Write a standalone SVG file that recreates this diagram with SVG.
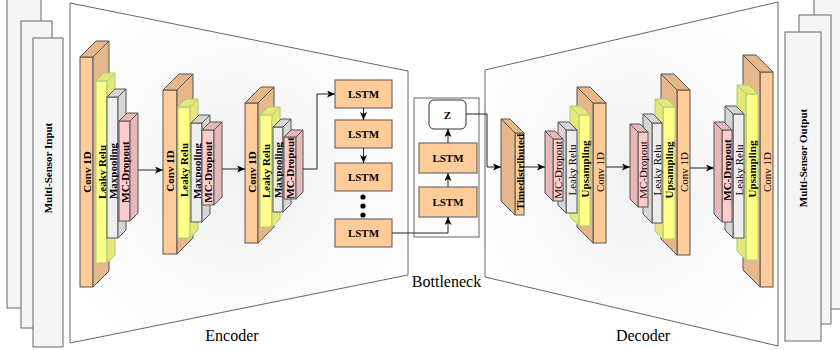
<svg xmlns="http://www.w3.org/2000/svg" width="840" height="350" viewBox="0 0 840 350" font-family="'Liberation Serif', 'DejaVu Serif', serif">
<style>
text{font-family:'Liberation Serif','DejaVu Serif',serif;fill:#000}
.lbl{font-size:11px;font-weight:bold;text-anchor:middle;dominant-baseline:central}
.reg{font-size:11px;font-weight:normal;text-anchor:middle;dominant-baseline:central}
.big{font-size:16px;text-anchor:middle}
.sheet{fill:#F5F5F5;stroke:#666;stroke-width:1}
.frame{stroke:#666;stroke-width:1}
.cf{fill:#FFCC99;stroke:#555;stroke-width:1}
.cs{fill:#E6B889;stroke:#555;stroke-width:1}
.yf{fill:#FFFF88;stroke:#A8CC78;stroke-width:1}
.ys{fill:#E6E67A;stroke:#A8CC78;stroke-width:1}
.gf{fill:#EEEEEE;stroke:#555;stroke-width:1}
.gs{fill:#D6D6D6;stroke:#555;stroke-width:1}
.pf{fill:#FFCCCC;stroke:#555;stroke-width:1}
.ps{fill:#E6B8B8;stroke:#555;stroke-width:1}
.lstm{fill:#FFCC99;stroke:#555;stroke-width:1}
.edge{fill:none;stroke:#222;stroke-width:1}
</style>
<defs>
<marker id="ah" viewBox="0 0 8 7" refX="8" refY="3.5" markerWidth="8" markerHeight="7" markerUnits="userSpaceOnUse" orient="auto">
<path d="M0,0 L8,3.5 L0,7 L2,3.5 z" fill="#000"/>
</marker>
<radialGradient id="bg" cx="50%" cy="50%" r="60%">
<stop offset="0" stop-color="#F1F1F1"/>
<stop offset="1" stop-color="#FFFFFF"/>
</radialGradient>
</defs>

<g id="input">
<rect class="sheet" x="7" y="-1" width="34" height="309"/>
<rect class="sheet" x="21" y="21" width="31" height="307"/>
<rect class="sheet" x="33" y="38" width="30" height="309"/>
<text class="lbl" transform="translate(48,168) rotate(-90)">Multi-Sensor Input</text>
</g>

<g id="output">
<rect class="sheet" x="814" y="-1" width="30" height="310"/>
<rect class="sheet" x="799" y="15" width="32" height="309"/>
<rect class="sheet" x="785" y="32" width="36" height="309"/>
<text class="lbl" transform="translate(803,158) rotate(-90)">Multi-Sensor Output</text>
</g>

<g id="encoder-frame">
<polygon class="frame" fill="url(#bg)" points="70,3 408,71 408,275 70,343"/>
</g>
<g id="decoder-frame">
<polygon class="frame" fill="url(#bg)" points="485,70 778,2 778,346 485,277"/>
</g>

<g id="bottleneck">
<rect x="414" y="98" width="65" height="139" fill="#FCFCFC" stroke="#666"/>
</g>

<g id="enc1">
<rect class="cf" x="80" y="57" width="13" height="230"/>
<polygon class="cs" points="80,57 96,41 109,41 93,57"/>
<polygon class="cs" points="93,57 109,41 109,271 93,287"/>
<text class="lbl" transform="translate(86.5,172) rotate(-90)">Conv 1D</text>
<rect class="yf" x="96" y="81" width="11" height="182"/>
<polygon class="ys" points="96,81 104,73 115,73 107,81"/>
<polygon class="ys" points="107,81 115,73 115,255 107,263"/>
<text class="lbl" transform="translate(101.5,172) rotate(-90)">Leaky Relu</text>
<rect class="gf" x="107" y="97" width="11" height="141"/>
<polygon class="gs" points="107,97 115,89 126,89 118,97"/>
<polygon class="gs" points="118,97 126,89 126,230 118,238"/>
<text class="lbl" transform="translate(112.5,171) rotate(-90)">Maxpooling</text>
<rect class="pf" x="119" y="121" width="11" height="100"/>
<polygon class="ps" points="119,121 127,113 138,113 130,121"/>
<polygon class="ps" points="130,121 138,113 138,213 130,221"/>
<text class="lbl" transform="translate(124.5,172) rotate(-90)">MC-Dropout</text>
</g>

<g id="enc2">
<rect class="cf" x="163" y="90" width="14" height="164"/>
<polygon class="cs" points="163,90 179,74 193,74 177,90"/>
<polygon class="cs" points="177,90 193,74 193,238 177,254"/>
<text class="lbl" transform="translate(170,171) rotate(-90)">Conv 1D</text>
<rect class="yf" x="178" y="107" width="12" height="131"/>
<polygon class="ys" points="178,107 186,99 198,99 190,107"/>
<polygon class="ys" points="190,107 198,99 198,230 190,238"/>
<text class="lbl" transform="translate(184,170) rotate(-90)">Leaky Relu</text>
<rect class="gf" x="191" y="123" width="11" height="99"/>
<polygon class="gs" points="191,123 199,115 210,115 202,123"/>
<polygon class="gs" points="202,123 210,115 210,214 202,222"/>
<text class="lbl" transform="translate(196.5,171) rotate(-90)">Maxpooling</text>
<rect class="pf" x="202" y="130" width="12" height="75"/>
<polygon class="ps" points="202,130 210,122 222,122 214,130"/>
<polygon class="ps" points="214,130 222,122 222,197 214,205"/>
<text class="lbl" transform="translate(208,172) rotate(-90)">MC-Dropout</text>
</g>

<g id="enc3">
<rect class="cf" x="245" y="103" width="13" height="140"/>
<polygon class="cs" points="245,103 261,87 274,87 258,103"/>
<polygon class="cs" points="258,103 274,87 274,227 258,243"/>
<text class="lbl" transform="translate(251.5,172) rotate(-90)">Conv 1D</text>
<rect class="yf" x="260" y="115" width="12" height="112"/>
<polygon class="ys" points="260,115 268,107 280,107 272,115"/>
<polygon class="ys" points="272,115 280,107 280,219 272,227"/>
<text class="lbl" transform="translate(266,171) rotate(-90)">Leaky Relu</text>
<rect class="gf" x="273" y="127" width="10" height="85"/>
<polygon class="gs" points="273,127 281,119 291,119 283,127"/>
<polygon class="gs" points="283,127 291,119 291,204 283,212"/>
<text class="lbl" transform="translate(278,170) rotate(-90)">Maxpooling</text>
<rect class="pf" x="284" y="137" width="12" height="62"/>
<polygon class="ps" points="284,137 291,130 303,130 296,137"/>
<polygon class="ps" points="296,137 303,130 303,192 296,199"/>
<text class="lbl" transform="translate(290,168) rotate(-90)">MC-Dropout</text>
</g>

<g id="lstm-enc1"><rect class="lstm" x="335" y="80" width="57" height="28"/><text class="lbl" x="363.5" y="94">LSTM</text></g>
<g id="lstm-enc2"><rect class="lstm" x="335" y="120" width="57" height="28"/><text class="lbl" x="363.5" y="134">LSTM</text></g>
<g id="lstm-enc3"><rect class="lstm" x="335" y="163" width="57" height="28"/><text class="lbl" x="363.5" y="177">LSTM</text></g>
<g id="dots"><circle cx="363" cy="197" r="2.6"/><circle cx="363" cy="206" r="2.6"/><circle cx="363" cy="215" r="2.6"/></g>
<g id="lstm-enc4"><rect class="lstm" x="335" y="219" width="57" height="28"/><text class="lbl" x="363.5" y="233">LSTM</text></g>

<g id="lstm-b1"><rect class="lstm" x="419" y="187" width="58" height="30"/><text class="lbl" x="448" y="202">LSTM</text></g>
<g id="lstm-b2"><rect class="lstm" x="419" y="143" width="58" height="30"/><text class="lbl" x="448" y="158">LSTM</text></g>
<g id="z"><rect x="429" y="100" width="37" height="29" rx="5" fill="#FFFFFF" stroke="#333"/><text class="lbl" x="447.5" y="114.5">Z</text></g>

<g id="timedistributed">
<rect class="cf" x="515" y="133" width="9" height="82"/>
<polygon class="cs" points="515,133 501,119 510,119 524,133"/>
<polygon class="cs" points="515,133 501,119 501,201 515,215"/>
<text class="lbl" transform="translate(519.5,172) rotate(-90)">Timedistributed</text>
</g>

<g id="dec1">
<rect class="cf" x="593" y="103" width="13" height="140"/>
<polygon class="cs" points="593,103 577,87 590,87 606,103"/>
<polygon class="cs" points="593,103 577,87 577,227 593,243"/>
<text class="reg" transform="translate(599.5,172) rotate(-90)">Conv 1D</text>
<rect class="yf" x="579" y="115" width="11" height="111"/>
<polygon class="ys" points="579,115 570,106 581,106 590,115"/>
<polygon class="ys" points="579,115 570,106 570,217 579,226"/>
<text class="lbl" transform="translate(584.5,169) rotate(-90)">Upsampling</text>
<rect class="gf" x="566" y="130" width="11" height="83"/>
<polygon class="gs" points="566,130 558,122 569,122 577,130"/>
<polygon class="gs" points="566,130 558,122 558,205 566,213"/>
<text class="reg" transform="translate(571.5,170) rotate(-90)">Leaky Relu</text>
<rect class="pf" x="553" y="139" width="10" height="62"/>
<polygon class="ps" points="553,139 545,131 555,131 563,139"/>
<polygon class="ps" points="553,139 545,131 545,193 553,201"/>
<text class="reg" transform="translate(558,170) rotate(-90)">MC-Dropout</text>
</g>

<g id="dec2">
<rect class="cf" x="677" y="90" width="13" height="165"/>
<polygon class="cs" points="677,90 661,74 674,74 690,90"/>
<polygon class="cs" points="677,90 661,74 661,239 677,255"/>
<text class="reg" transform="translate(683.5,172) rotate(-90)">Conv 1D</text>
<rect class="yf" x="663" y="107" width="12" height="132"/>
<polygon class="ys" points="663,107 655,99 667,99 675,107"/>
<polygon class="ys" points="663,107 655,99 655,231 663,239"/>
<text class="lbl" transform="translate(669,170) rotate(-90)">Upsampling</text>
<rect class="gf" x="652" y="123" width="10" height="100"/>
<polygon class="gs" points="652,123 643,114 653,114 662,123"/>
<polygon class="gs" points="652,123 643,114 643,214 652,223"/>
<text class="reg" transform="translate(657,170) rotate(-90)">Leaky Relu</text>
<rect class="pf" x="638" y="132" width="10" height="75"/>
<polygon class="ps" points="638,132 630,124 640,124 648,132"/>
<polygon class="ps" points="638,132 630,124 630,199 638,207"/>
<text class="reg" transform="translate(643,170) rotate(-90)">MC-Dropout</text>
</g>

<g id="dec3">
<rect class="cf" x="760" y="72" width="13" height="215"/>
<polygon class="cs" points="760,72 743,55 756,55 773,72"/>
<polygon class="cs" points="760,72 743,55 743,270 760,287"/>
<text class="reg" transform="translate(766.5,172) rotate(-90)">Conv 1D</text>
<rect class="yf" x="746" y="94" width="12" height="166"/>
<polygon class="ys" points="746,94 737,85 749,85 758,94"/>
<polygon class="ys" points="746,94 737,85 737,251 746,260"/>
<text class="lbl" transform="translate(752,169) rotate(-90)">Upsampling</text>
<rect class="gf" x="733" y="114" width="11" height="124"/>
<polygon class="gs" points="733,114 725,106 736,106 744,114"/>
<polygon class="gs" points="733,114 725,106 725,230 733,238"/>
<text class="reg" transform="translate(738.5,170) rotate(-90)">Leaky Relu</text>
<rect class="pf" x="722" y="130" width="10" height="92"/>
<polygon class="ps" points="722,130 714,122 724,122 732,130"/>
<polygon class="ps" points="722,130 714,122 714,214 722,222"/>
<text class="lbl" transform="translate(727,170) rotate(-90)">MC-Dropout</text>
</g>

<g id="connectors">
<path class="edge" marker-end="url(#ah)" d="M138,170 L163,170"/>
<path class="edge" marker-end="url(#ah)" d="M222,169 L245,169"/>
<path class="edge" marker-end="url(#ah)" d="M303,169 L317,169 L317,94 L335,94"/>
<path class="edge" marker-end="url(#ah)" d="M363.5,108 L363.5,120"/>
<path class="edge" marker-end="url(#ah)" d="M363.5,148 L363.5,163"/>
<path class="edge" marker-end="url(#ah)" d="M392,233 L448,233 L448,217"/>
<path class="edge" marker-end="url(#ah)" d="M448,187 L448,173"/>
<path class="edge" marker-end="url(#ah)" d="M448,143 L448,129"/>
<path class="edge" marker-end="url(#ah)" d="M466,114 L487,114 L487,167 L501,167"/>
<path class="edge" marker-end="url(#ah)" d="M524,167 L545,167"/>
<path class="edge" marker-end="url(#ah)" d="M606,167 L630,167"/>
<path class="edge" marker-end="url(#ah)" d="M690,168 L714,168"/>
</g>

<g id="labels">
<text class="big" x="232" y="341">Encoder</text>
<text class="big" x="446.5" y="287">Bottleneck</text>
<text class="big" x="643" y="341">Decoder</text>
</g>
</svg>
